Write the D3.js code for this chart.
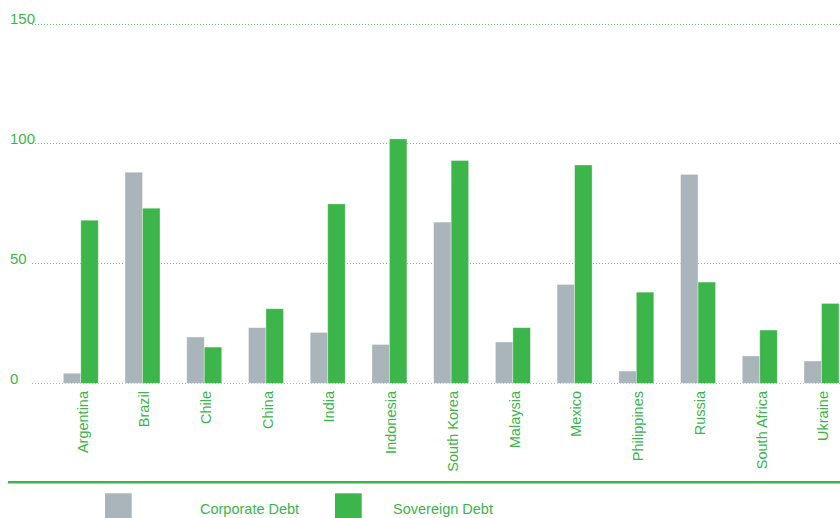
<!DOCTYPE html>
<html>
<head>
<meta charset="utf-8">
<script src="https://cdn.jsdelivr.net/npm/d3@7"></script>
<style>
  html, body { margin: 0; padding: 0; background: #fff; }
  svg { display: block; font-family: "Liberation Sans", Arial, Helvetica, sans-serif; }
</style>
</head>
<body>
<svg id="chart" width="840" height="518"></svg>
<script>
// Countries on the x axis
const countries = ["Argentina", "Brazil", "Chile", "China", "India", "Indonesia",
  "South Korea", "Malaysia", "Mexico", "Philippines", "Russia", "South Africa", "Ukraine"];
// Debt values per country
const corporateDebt = [4.2, 88, 19.3, 23.2, 21.2, 16.2, 67.2, 17.2, 41.2, 5.1, 87.1, 11.4, 9.3];
const sovereignDebt = [68, 73, 15.1, 31.1, 74.8, 101.9, 92.9, 23.2, 91, 38, 42.2, 22.2, 33.3];
// Series names and y-axis ticks
const seriesNames = ["Corporate Debt", "Sovereign Debt"];
const yTicks = [0, 50, 100, 150];

const green = "#3cb54a";
const grey = "#a9b4bb";
const colors = [grey, green];

const svg = d3.select("#chart");

const y = d3.scaleLinear().domain([0, 150]).range([383.3, 23.5]);
const x0 = d3.scaleBand().domain(countries).range([63.3, 839]).paddingInner(0.433).paddingOuter(0);
const x1 = d3.scaleBand().domain(seriesNames).range([0, x0.bandwidth()]).padding(0);

const rows = countries.map((c, i) => ({ country: c, values: [corporateDebt[i], sovereignDebt[i]] }));

// Dotted gridlines
const grid = svg.append("g");
grid.selectAll("line").data(yTicks).join("line")
  .attr("x1", 32).attr("x2", 840)
  .attr("y1", d => Math.round(y(d)) + 0.5).attr("y2", d => Math.round(y(d)) + 0.5)
  .attr("stroke", "#5cc068").attr("stroke-opacity", d => d === 0 ? 0.7 : 0.9)
  .attr("stroke-width", 1).attr("stroke-dasharray", "1,2");

// Y tick labels
svg.append("g").selectAll("text").data(yTicks).join("text")
  .attr("x", 10).attr("y", d => y(d) + 0.8)
  .attr("fill", green).attr("font-size", 15)
  .text(d => d);

// Bars
const groups = svg.append("g").selectAll("g").data(rows).join("g")
  .attr("transform", d => `translate(${x0(d.country)},0)`);
groups.selectAll("rect").data(d => d.values.map((v, k) => ({ key: seriesNames[k], value: v, k })))
  .join("rect")
  .attr("x", d => x1(d.key))
  .attr("width", x1.bandwidth())
  .attr("y", d => y(d.value))
  .attr("height", d => y(0) - y(d.value))
  .attr("fill", d => colors[d.k])
  .attr("stroke", "#ffffff").attr("stroke-opacity", 0.45).attr("stroke-width", 0.8);

// Category labels, rotated
svg.append("g").selectAll("text").data(countries).join("text")
  .attr("transform", d => `translate(${x0(d) + x0.bandwidth() / 2 + 6.8},391) rotate(-90)`)
  .attr("text-anchor", "end")
  .attr("fill", green).attr("font-size", 14.5)
  .text(d => d);

// Solid rule above the legend
svg.append("line")
  .attr("x1", 8).attr("x2", 840).attr("y1", 482.3).attr("y2", 482.3)
  .attr("stroke", green).attr("stroke-width", 2.6);

// Legend
const legendSwatchX = [105, 335];
const legendTextX = [200, 393];
const legend = svg.append("g");
legend.selectAll("rect").data(seriesNames).join("rect")
  .attr("x", (d, i) => legendSwatchX[i]).attr("y", 493.3)
  .attr("width", 26.7).attr("height", 25)
  .attr("fill", (d, i) => colors[i]);
legend.selectAll("text").data(seriesNames).join("text")
  .attr("x", (d, i) => legendTextX[i]).attr("y", 514)
  .attr("fill", green).attr("font-size", 14.5)
  .text(d => d);
</script>
</body>
</html>
